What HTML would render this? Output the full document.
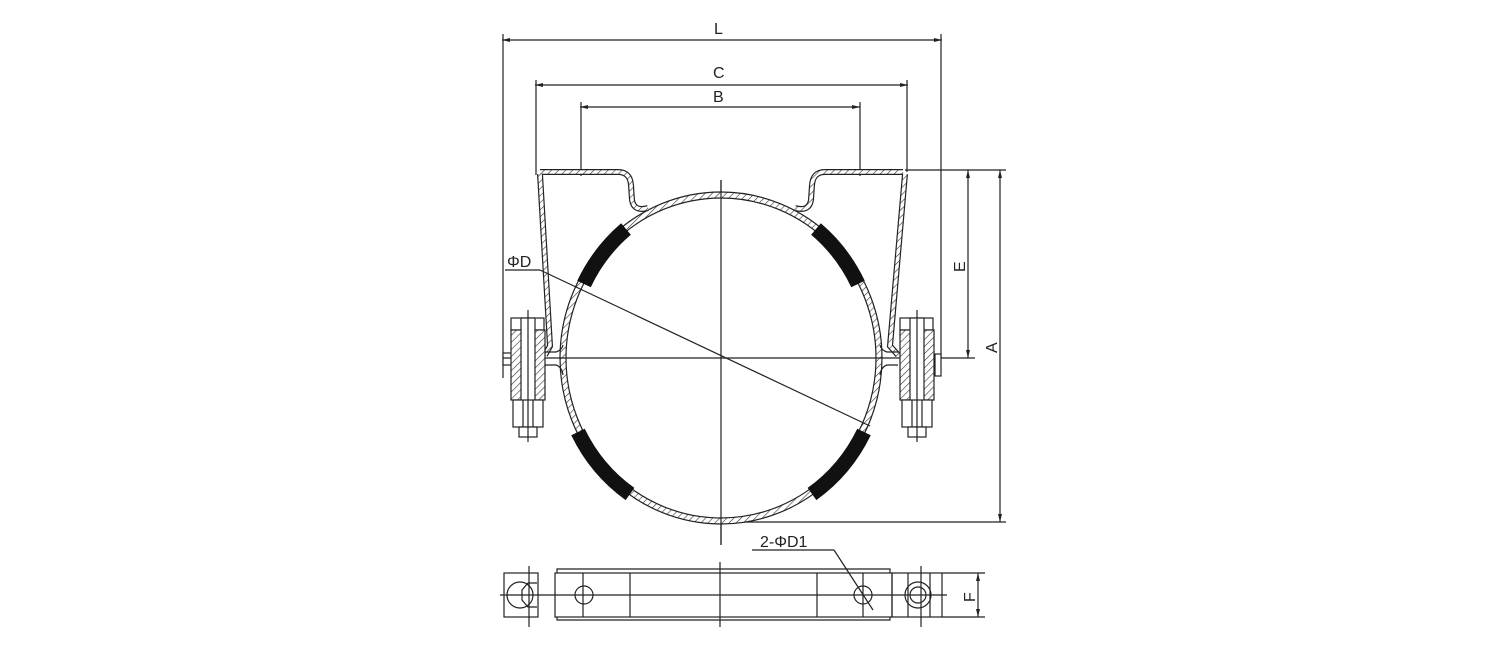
<!DOCTYPE html>
<html><head><meta charset="utf-8"><style>
html,body{margin:0;padding:0;background:#fff;}
svg{display:block}
text{font-family:"Liberation Sans",sans-serif;font-size:16px;fill:#222}
</style></head><body>
<svg width="1500" height="650" viewBox="0 0 1500 650" xmlns="http://www.w3.org/2000/svg">
<defs>
<pattern id="h" width="5" height="5" patternUnits="userSpaceOnUse" patternTransform="rotate(45)">
<rect width="5" height="5" fill="#fff"/><line x1="0" y1="0" x2="0" y2="5" stroke="#333" stroke-width="1.2"/></pattern>
<g id="bolt" stroke="#222" stroke-width="1.2" fill="#fff">
<rect x="-17" y="318" width="33" height="12"/>
<line x1="-6" y1="318" x2="-6" y2="330"/><line x1="6" y1="318" x2="6" y2="330"/>
<rect x="-17" y="330" width="34" height="70" fill="url(#h)"/>
<rect x="-7" y="318" width="14" height="115"/>
<rect x="-15" y="400" width="30" height="27"/>
<line x1="-5" y1="400" x2="-5" y2="427"/><line x1="5" y1="400" x2="5" y2="427"/>
<rect x="-9" y="427" width="18" height="10"/>
<line x1="0" y1="310" x2="0" y2="442"/>
</g>
</defs>
<g fill="none" stroke="#222" stroke-width="1.2">
<line x1="502" y1="40" x2="942" y2="40"/>
<line x1="503" y1="34" x2="503" y2="378"/>
<line x1="941" y1="34" x2="941" y2="358"/>
<line x1="535" y1="85" x2="908" y2="85"/>
<line x1="536" y1="80" x2="536" y2="175"/>
<line x1="907" y1="80" x2="907" y2="172"/>
<line x1="580" y1="107" x2="860" y2="107"/>
<line x1="581" y1="102" x2="581" y2="176"/>
<line x1="860" y1="102" x2="860" y2="176"/>
<line x1="905" y1="170" x2="1006" y2="170"/>
<line x1="940" y1="358" x2="975" y2="358"/>
<line x1="720" y1="522" x2="1006" y2="522"/>
<line x1="968" y1="170" x2="968" y2="358"/>
<line x1="1000" y1="170" x2="1000" y2="522"/>
<rect x="503" y="353" width="9" height="12" fill="#fff"/>
<line x1="721" y1="180" x2="721" y2="545"/>
<line x1="503" y1="358" x2="940" y2="358"/>
<ellipse cx="721" cy="358" rx="161" ry="166" fill="url(#h)"/>
<ellipse cx="721" cy="358" rx="155" ry="160" fill="#fff"/>
<line x1="721" y1="180" x2="721" y2="545"/>
<line x1="560" y1="358" x2="882" y2="358"/>
<path d="M540 172 L618 172 Q630 172 631 185 L632 200 Q634 212 648 208" stroke-width="6" stroke="#222"/>
<path d="M540 172 L618 172 Q630 172 631 185 L632 200 Q634 212 648 208" stroke-width="3.6" stroke="url(#h)"/>
<path d="M540 174 L550 346 L545 355" stroke-width="6" stroke="#222"/>
<path d="M540 174 L550 346 L545 355" stroke-width="3.6" stroke="url(#h)"/>
<path d="M903 172 L825 172 Q813 172 812 185 L811 200 Q809 212 795 208" stroke-width="6" stroke="#222"/>
<path d="M903 172 L825 172 Q813 172 812 185 L811 200 Q809 212 795 208" stroke-width="3.6" stroke="url(#h)"/>
<path d="M905 174 L890 346 L898 355" stroke-width="6" stroke="#222"/>
<path d="M905 174 L890 346 L898 355" stroke-width="3.6" stroke="url(#h)"/>
<path d="M545 352 L556 352 Q562 350 563 345 M545 365 L556 365 Q562 367 563 375"/>
<path d="M898 352 L887 352 Q881 350 880 345 M898 365 L887 365 Q881 367 880 375"/>
<rect x="935" y="354" width="6" height="22" fill="#fff"/>
<g stroke="#111" stroke-width="15" fill="none">
<path d="M626 229 A160 165 0 0 0 584 284"/>
<path d="M816 229 A160 165 0 0 1 858 284"/>
<path d="M578 432 A160 165 0 0 0 630 494"/>
<path d="M864 432 A160 165 0 0 1 812 494"/>
</g>
<use href="#bolt" x="528"/>
<use href="#bolt" x="917"/>
<line x1="505" y1="270" x2="540" y2="270"/>
<line x1="540" y1="270" x2="870" y2="426"/>
<line x1="752" y1="550" x2="834" y2="550"/>
<line x1="834" y1="550" x2="873" y2="610"/>
<rect x="504" y="573" width="34" height="44"/>
<rect x="555" y="573" width="337" height="44"/>
<path d="M557 573 V569 H890 V573 M557 617 V620 H890 V617"/>
<rect x="892" y="573" width="50" height="44"/>
<line x1="583" y1="573" x2="583" y2="617"/><line x1="630" y1="573" x2="630" y2="617"/>
<line x1="817" y1="573" x2="817" y2="617"/><line x1="863" y1="573" x2="863" y2="617"/>
<line x1="908" y1="573" x2="908" y2="617"/><line x1="930" y1="573" x2="930" y2="617"/>
<circle cx="584" cy="595" r="9"/><circle cx="863" cy="595" r="9"/>
<circle cx="520" cy="595" r="13"/><path d="M537 583 H528 L522 590 V600 L528 607 H537"/>
<circle cx="918" cy="595" r="13"/><circle cx="918" cy="595" r="8"/>
<line x1="500" y1="595" x2="947" y2="595"/>
<line x1="529" y1="566" x2="529" y2="627"/>
<line x1="921" y1="566" x2="921" y2="627"/>
<line x1="720" y1="562" x2="720" y2="627"/>
<line x1="942" y1="573" x2="985" y2="573"/><line x1="942" y1="617" x2="985" y2="617"/>
<line x1="978" y1="573" x2="978" y2="617"/>
</g>
<g fill="#222">
<path d="M502 40 l8 -2 v4z M942 40 l-8 -2 v4z M535 85 l8 -2 v4z M908 85 l-8 -2 v4z M580 107 l8 -2 v4z M860 107 l-8 -2 v4z"/>
<path d="M968 170 l-2 8 h4z M968 358 l-2 -8 h4z M1000 170 l-2 8 h4z M1000 522 l-2 -8 h4z M978 573 l-2 8 h4z M978 617 l-2 -8 h4z"/>
</g>
<text x="714" y="34">L</text>
<text x="713" y="78">C</text>
<text x="713" y="102">B</text>
<text x="507" y="267">ΦD</text>
<text x="760" y="547">2-ΦD1</text>
<text transform="translate(965 272) rotate(-90)">E</text>
<text transform="translate(997 353) rotate(-90)">A</text>
<text transform="translate(975 602) rotate(-90)">F</text>
</svg>
</body></html>
